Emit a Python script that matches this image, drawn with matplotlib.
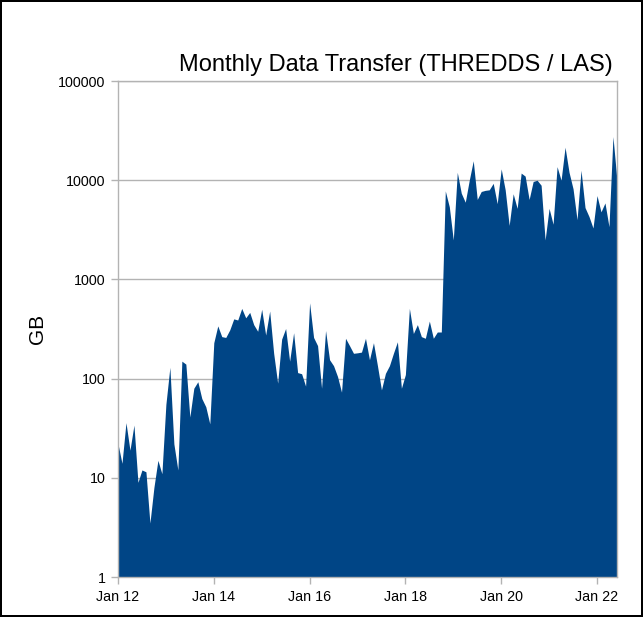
import matplotlib
matplotlib.use("Agg")
import matplotlib.pyplot as plt
import numpy as np

plt.rcParams['font.family'] = ['Liberation Sans', 'DejaVu Sans']

# monthly GB transferred, Jan 2012 .. Jun 2022
gb_2012 = [22, 14, 36, 19, 34, 9, 12, 11.5, 3.5, 8, 15, 11]
gb_2013 = [55, 130, 22, 12, 150, 140, 41, 80, 93, 63, 52, 35]
gb_2014 = [230, 340, 265, 260, 310, 400, 390, 510, 410, 465, 350, 300]
gb_2015 = [500, 275, 480, 180, 90, 250, 320, 150, 290, 115, 112, 84]
gb_2016 = [580, 260, 215, 80, 305, 155, 135, 105, 73, 255, 215, 180]
gb_2017 = [182, 185, 255, 155, 230, 135, 77, 113, 135, 180, 235, 80]
gb_2018 = [110, 510, 285, 350, 265, 255, 380, 255, 295, 295, 7800, 5400]
gb_2019 = [2500, 12000, 7400, 6000, 10000, 15700, 6400, 7700, 7900, 8000, 9300, 5800]
gb_2020 = [13000, 8000, 3500, 7300, 5200, 11800, 11000, 6400, 9700, 10000, 8900, 2500]
gb_2021 = [5200, 3600, 13700, 10000, 21500, 12000, 8200, 4000, 12600, 5300, 4300, 3300]
gb_2022 = [7000, 4800, 5900, 3400, 27500, 10000]

values = (gb_2012 + gb_2013 + gb_2014 + gb_2015 + gb_2016 + gb_2017
          + gb_2018 + gb_2019 + gb_2020 + gb_2021 + gb_2022)
months = np.arange(len(values))

xtick_pos = [0, 24, 48, 72, 96, 120]
xtick_labels = ['Jan 12', 'Jan 14', 'Jan 16', 'Jan 18', 'Jan 20', 'Jan 22']
ytick_pos = [1, 10, 100, 1000, 10000, 100000]
ytick_labels = ['1', '10', '100', '1000', '10000', '100000']

fig = plt.figure(figsize=(6.43, 6.17), dpi=100)
fig.patch.set_edgecolor('black')
fig.patch.set_linewidth(1.5)
ax = fig.add_axes([0.1835, 0.0648, 0.776, 0.8039])

ax.fill_between(months, values, 1, color='#004586', linewidth=0, zorder=2)

ax.set_yscale('log')
ax.set_ylim(1, 100000)
ax.set_xlim(0, len(values) - 1)
ax.set_yticks(ytick_pos)
ax.set_yticklabels(ytick_labels)
ax.yaxis.set_minor_locator(matplotlib.ticker.NullLocator())
ax.set_xticks(xtick_pos)
ax.set_xticklabels(xtick_labels)

ax.grid(axis='y', color='#b3b3b3', linewidth=1, zorder=1)
ax.set_axisbelow(True)
for s in ax.spines.values():
    s.set_color('#b3b3b3')
    s.set_linewidth(1)
ax.tick_params(axis='both', colors='#b3b3b3', labelcolor='black',
               labelsize=10.3, length=5, width=1, pad=4)

ax.set_ylabel('GB', fontsize=15, labelpad=8)
fig.text(0.953, 0.885, 'Monthly Data Transfer (THREDDS / LAS)',
         fontsize=17, ha='right', va='baseline')

fig.savefig('out.png', dpi=100, edgecolor=fig.get_edgecolor())
